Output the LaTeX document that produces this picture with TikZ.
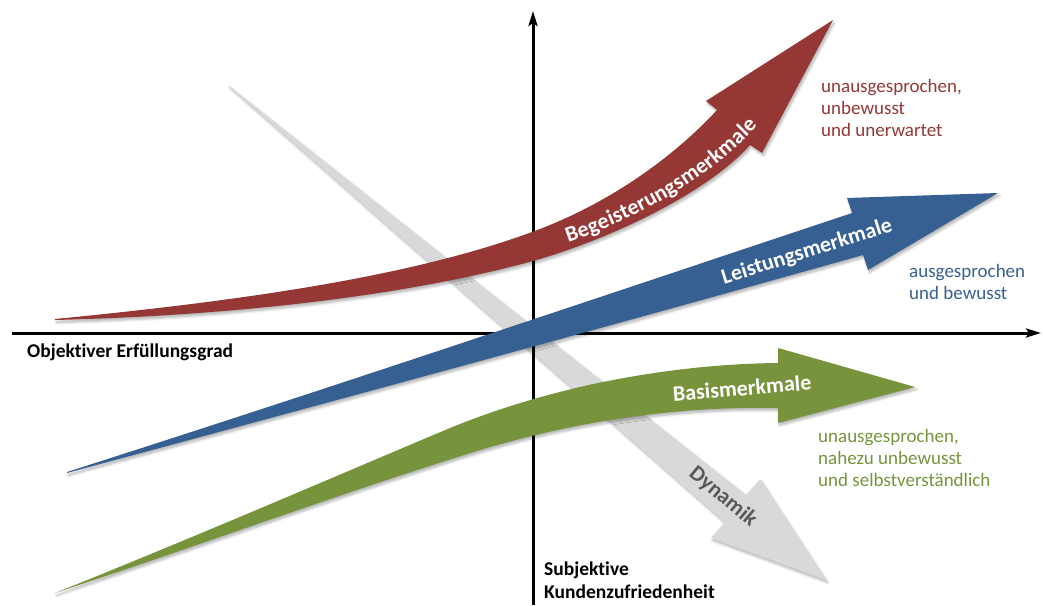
\documentclass[tikz,border=0pt]{standalone}
\usepackage{fontspec}
\setmainfont{Carlito}[Ligatures=NoCommon]
\usetikzlibrary{arrows.meta,decorations.text,shadows.blur}

\definecolor{kanoRed}{HTML}{953735}
\definecolor{kanoBlue}{HTML}{376092}
\definecolor{kanoGreen}{HTML}{77933C}
\definecolor{kanoGray}{HTML}{D9D9D9}
\definecolor{kanoDark}{HTML}{595959}

\begin{document}
\begin{tikzpicture}[x=1pt,y=-1pt,
  band/.style={draw=none,
    blur shadow={shadow xshift=1.5pt, shadow yshift=-2.5pt,
                 shadow blur radius=2.5pt, shadow blur steps=6,
                 shadow opacity=30}},
  axis/.style={line width=3pt, -{Stealth[length=15pt,width=9pt,inset=3pt]}},
  axislabel/.style={font=\fontsize{19.5}{23}\selectfont\bfseries, inner sep=0pt, anchor=base west},
  bandlabel/.style={font=\fontsize{22}{24}\selectfont\bfseries, text=white, inner sep=0pt},
  note/.style={font=\fontsize{19}{22}\selectfont, inner sep=0pt, anchor=base west}]

\useasboundingbox (0,0) rectangle (1043,605);

% --- Dynamik (grey band, lowest layer)
\fill[kanoGray, band] (228,85) -- (746,495) -- (760,479) -- (826,580)
      -- (711,538) -- (725,522) -- cycle;

% --- axes
\coordinate (xs) at (12,333);
\coordinate (xe) at (1041,333);
\coordinate (ys) at (533,605);
\coordinate (ye) at (533,11);
\draw[axis] (xs) -- (xe);
\draw[axis] (ys) -- (ye);

% --- Begeisterungsmerkmale (red band)
\fill[kanoRed, band] (55,319) .. controls (250,300) and (420,275) .. (540,229)
      .. controls (620,198) and (680,150) .. (717,110) -- (706,101) -- (833,20)
      -- (762,153) -- (750,145) .. controls (710,190) and (620,235) .. (540,259)
      .. controls (420,293) and (250,315) .. (55,320) -- cycle;

% --- Leistungsmerkmale (blue band)
\fill[kanoBlue, band] (67,472) .. controls (330,388) and (600,297) .. (852,213)
      -- (847,198) -- (998,193) -- (868,270) -- (863,255)
      .. controls (600,329) and (330,402) .. (67,473) -- cycle;

% --- Basismerkmale (green band)
\fill[kanoGreen, band] (55,593) .. controls (200,535) and (350,470) .. (450,428)
      .. controls (560,383) and (680,364) .. (778,363) -- (778,348) -- (915,387)
      -- (778,423) -- (778,408) .. controls (680,406) and (580,420) .. (480,450)
      .. controls (350,490) and (200,545) .. (55,593) -- cycle;

% --- band labels
\path[decorate, decoration={text along path,
      text={|\fontsize{22}{24}\selectfont\bfseries|Begeisterungsmerkmale},
      text color=white, text align=center, raise=-7pt}]
      (540,244) .. controls (640,214) and (720,165) .. (770,100);
\node[bandlabel, rotate=17.5] (leist) at (807,252) {Leistungsmerkmale};
\node[bandlabel, rotate=5] (basis) at (742,388) {Basismerkmale};
\node[bandlabel, text=kanoDark, rotate=-40] (dyn) at (723,497) {Dynamik};

% --- axis labels
\node[axislabel] (xlab) at (27,357) {Objektiver Erfüllungsgrad};
\node[axislabel] (ylab1) at (544,575) {Subjektive};
\node[axislabel] (ylab2) at (544,598) {Kundenzufriedenheit};

% --- descriptions
\node[note, text=kanoRed] (r1) at (821,92) {unausgesprochen,};
\node[note, text=kanoRed] (r2) at (821,114) {unbewusst};
\node[note, text=kanoRed] (r3) at (821,136) {und unerwartet};
\node[note, text=kanoBlue] (b1) at (909,277) {ausgesprochen};
\node[note, text=kanoBlue] (b2) at (909,299) {und bewusst};
\node[note, text=kanoGreen] (g1) at (818,442) {unausgesprochen,};
\node[note, text=kanoGreen] (g2) at (818,464) {nahezu unbewusst};
\node[note, text=kanoGreen] (g3) at (818,486) {und selbstverständlich};
\end{tikzpicture}
\end{document}
